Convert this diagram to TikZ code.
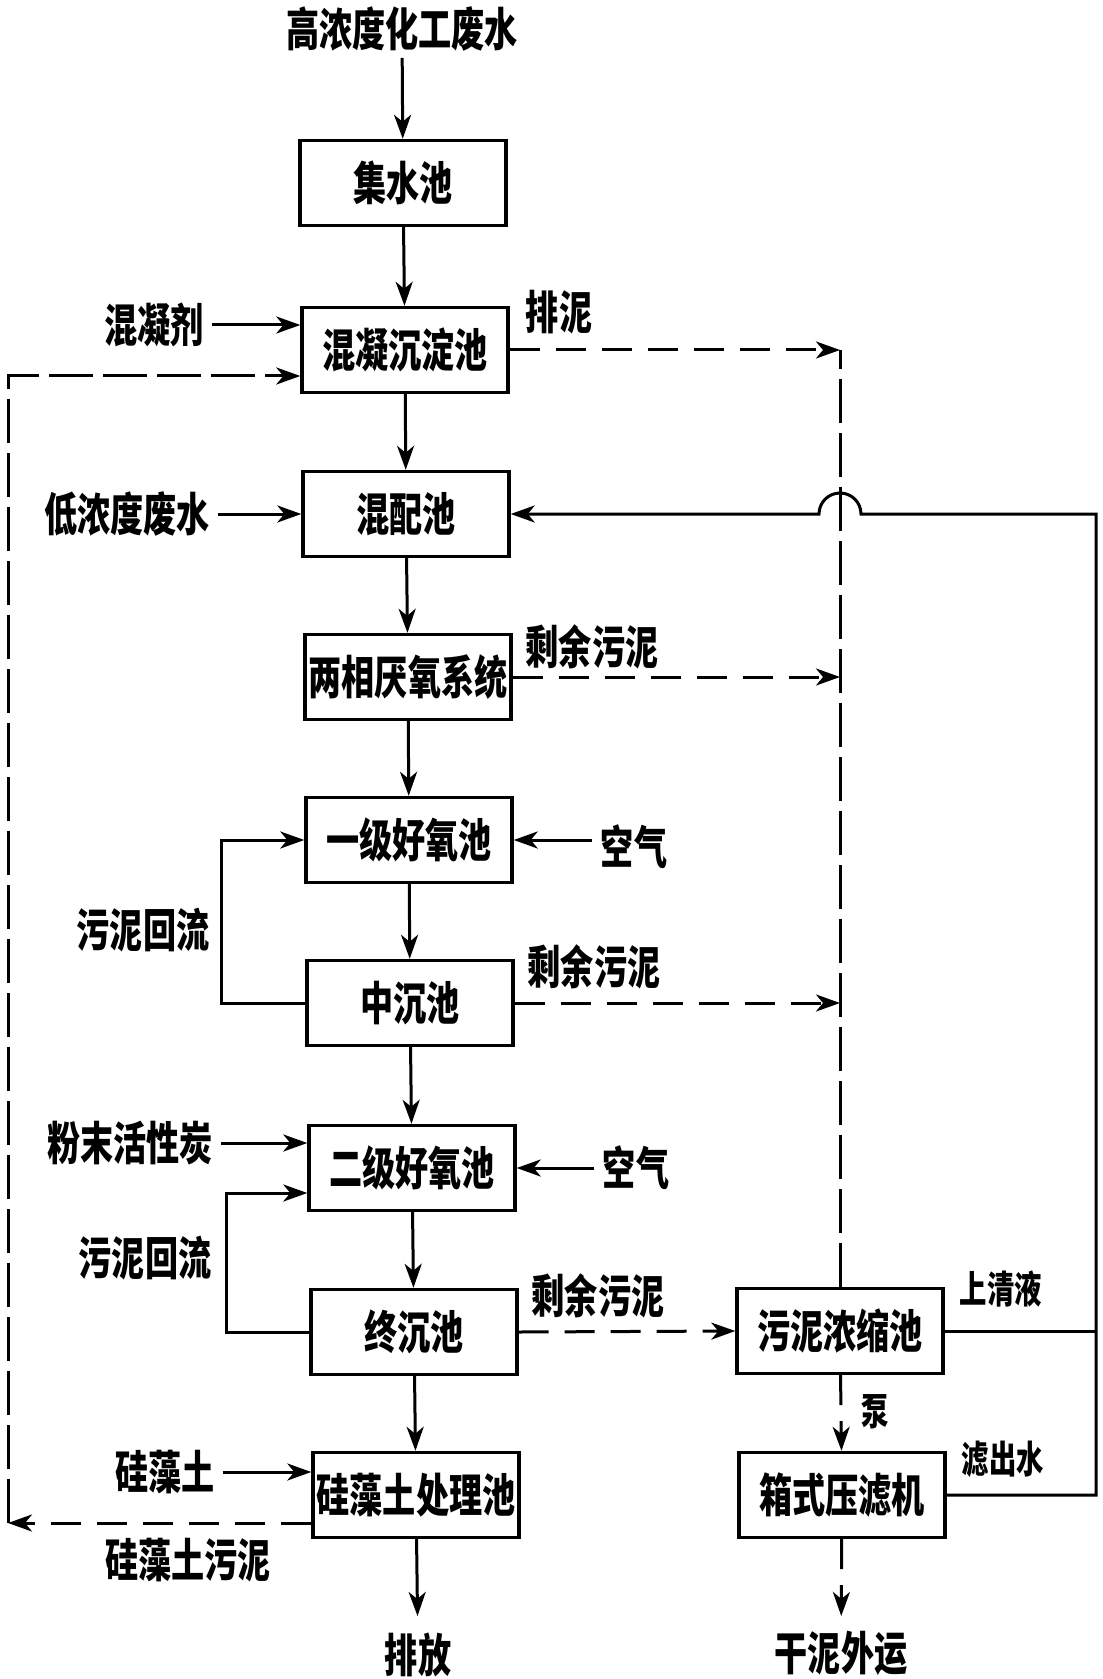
\documentclass[tikz,border=0pt]{standalone}
\usepackage{fontspec}
\newfontfamily\cjk[FakeStretch=0.72]{Noto Sans CJK SC}
\usetikzlibrary{arrows.meta,calc}

\tikzset{
  >={Stealth[length=12pt,width=8.5pt,inset=3.5pt]},
  pool/.style={draw, line width=1.7pt, minimum width=103pt, minimum height=42.5pt,
    inner sep=0pt, font=\cjk\bfseries\fontsize{23pt}{23pt}\selectfont,
    text height=19pt, text depth=1.6pt},
  lbl/.style={inner sep=4pt, font=\cjk\bfseries\fontsize{23pt}{23pt}\selectfont,
    text height=19pt, text depth=1.6pt},
  smalllbl/.style={lbl, font=\cjk\bfseries\fontsize{19pt}{19pt}\selectfont,
    text height=15.7pt, text depth=1.3pt},
  flow/.style={line width=1.5pt},
  sludge/.style={flow, dash pattern=on 15pt off 8pt},
  longsludge/.style={flow, dash pattern=on 22pt off 5pt},
}

\begin{document}
\begin{tikzpicture}[x=0.5pt,y=-0.5pt]
\useasboundingbox (0,0) rectangle (1102,1679);

% main treatment line
\node[pool] (jishui) at (403,183) {集水池};
\node[pool] (hunning) at (405,350) {混凝沉淀池};
\node[pool] (hunpei) at (406,514) {混配池};
\node[pool] (yanyang) at (408,677) {两相厌氧系统};
\node[pool] (haoyang1) at (409,840) {一级好氧池};
\node[pool] (zhongchen) at (410,1003) {中沉池};
\node[pool] (haoyang2) at (412,1168) {二级好氧池};
\node[pool] (zhongchen2) at (414,1332) {终沉池};
\node[pool] (guizao) at (416,1495) {硅藻土处理池};

% sludge line
\node[pool] (nongsuo) at (840,1331) {污泥浓缩池};
\node[pool] (yalv) at (842,1495) {箱式压滤机};

% labels
\node[lbl] (gaonong) at (402,29) {高浓度化工废水};
\node[lbl] (hnj) at (154,325) {混凝剂};
\node[lbl] (paini) at (559,312) {排泥};
\node[lbl] (dinong) at (127,514) {低浓度废水};
\node[lbl] (yuni1) at (592,647) {剩余污泥};
\node[lbl] (kongqi1) at (634,847) {空气};
\node[lbl] (huiliu1) at (143,930) {污泥回流};
\node[lbl] (yuni2) at (594,967) {剩余污泥};
\node[lbl] (fenmo) at (130,1143) {粉末活性炭};
\node[lbl] (kongqi2) at (636,1168) {空气};
\node[lbl] (huiliu2) at (145,1258) {污泥回流};
\node[lbl] (yuni3) at (598,1296) {剩余污泥};
\node[lbl] (gzt) at (165,1472) {硅藻土};
\node[lbl] (gztni) at (188,1560) {硅藻土污泥};
\node[lbl] (paifang) at (418,1655) {排放};
\node[lbl] (ganni) at (841,1653) {干泥外运};
\node[smalllbl] (qingye) at (1001,1289) {上清液};
\node[smalllbl] (beng) at (875,1411) {泵};
\node[smalllbl] (lvchu) at (1003,1459) {滤出水};

\coordinate (rtop) at (1096,514);
\coordinate (lbot) at (8,1523);
\coordinate (ltop) at (8,376);

% water flow
\draw[flow,->] (gaonong) -- (jishui);
\draw[flow,->] (jishui) -- (hunning);
\draw[flow,->] (hunning) -- (hunpei);
\draw[flow,->] (hunpei) -- (yanyang);
\draw[flow,->] (yanyang) -- (haoyang1);
\draw[flow,->] (haoyang1) -- (zhongchen);
\draw[flow,->] (zhongchen) -- (haoyang2);
\draw[flow,->] (haoyang2) -- (zhongchen2);
\draw[flow,->] (zhongchen2) -- (guizao);
\draw[flow,->,shorten >=5pt] (guizao) -- (paifang);

% dosing
\draw[flow,->] (hnj.east) -- (hnj.east -| hunning.west);
\draw[flow,->] (dinong.east) -- (dinong.east -| hunpei.west);
\draw[flow,->] (fenmo.east) -- (fenmo.east -| haoyang2.west);
\draw[flow,->] (gzt.east) -- (gzt.east -| guizao.west);
\draw[flow,->] (kongqi1.west |- haoyang1.east) -- (haoyang1.east);
\draw[flow,->] (kongqi2.west |- haoyang2.east) -- (haoyang2.east);

% sludge return
\draw[flow,->] (zhongchen.west) -- ++(-84,0) |- (haoyang1.west);
\draw[flow,->] (zhongchen2.west) -- ++(-83,0) |- ([yshift=-12.5pt]haoyang2.west);

% excess sludge
\draw[sludge,->] (hunning.east) -- (hunning.east -| nongsuo);
\draw[sludge,->] (yanyang.east) -- (yanyang.east -| nongsuo);
\draw[sludge,->] (zhongchen.east) -- (zhongchen.east -| nongsuo);
\draw[longsludge] (nongsuo.north) -- (nongsuo.north |- hunning.east);
\draw[sludge,->] (zhongchen2.east) -- (nongsuo.west);
\draw[sludge,->] (nongsuo) -- (yalv);
\draw[sludge,->,shorten >=4pt] (yalv) -- (ganni);

% water back to mixing
\draw[flow] (nongsuo.east) -- (nongsuo.east -| rtop);
\draw[flow,->] (yalv.east) -| (rtop) -- ($(rtop -| nongsuo)+(21,0)$)
  arc[start angle=0, end angle=180, radius=10.5pt] -- (hunpei.east);

% diatomite sludge
\draw[sludge,->] ([yshift=-14pt]guizao.west) -- (lbot);
\draw[longsludge,->] (lbot) -- (ltop) -- ([yshift=-13pt]hunning.west);
\end{tikzpicture}
\end{document}
